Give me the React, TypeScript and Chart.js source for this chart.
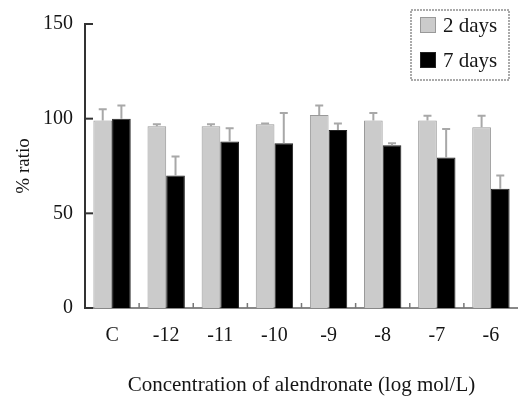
import { useEffect, useRef } from "react";
import { Chart, registerables } from "chart.js";

Chart.register(...registerables);

const categories = ["C", "-12", "-11", "-10", "-9", "-8", "-7", "-6"];
const seriesLabels = ["2 days", "7 days"];
const days2 = [99, 96, 96, 97, 102, 99, 99, 95.5];
const days2Err = [6, 1, 1, 0.5, 5, 4, 2.5, 6];
const days7 = [100, 70, 88, 87, 94, 86, 79.5, 63];
const days7Err = [7, 10, 7, 16, 3.5, 1, 15, 7];
const yTicks = [0, 50, 100, 150];
const xTitle = "Concentration of alendronate (log mol/L)";
const yTitle = "% ratio";

const FONT = "'Liberation Serif', 'Times New Roman', serif";
const TEXT = "#151515";
const errs = [days2Err, days7Err];

const decorPlugin = {
  id: "decor",
  afterDatasetsDraw(chart: any) {
    const ctx = chart.ctx;
    const yScale = chart.scales.y;
    const xScale = chart.scales.x;
    const area = chart.chartArea;
    ctx.save();
    // error bars
    chart.data.datasets.forEach((ds: any, i: number) => {
      const meta = chart.getDatasetMeta(i);
      meta.data.forEach((bar: any, j: number) => {
        const top = yScale.getPixelForValue(ds.data[j] + errs[i][j]);
        ctx.strokeStyle = "#a8a8a8";
        ctx.lineWidth = 2;
        ctx.beginPath();
        ctx.moveTo(bar.x, bar.y);
        ctx.lineTo(bar.x, top);
        ctx.moveTo(bar.x - 4, top);
        ctx.lineTo(bar.x + 4, top);
        ctx.stroke();
      });
    });
    // inward y ticks
    ctx.strokeStyle = "#333";
    ctx.lineWidth = 2;
    yTicks.forEach((t) => {
      const y = yScale.getPixelForValue(t);
      ctx.beginPath();
      ctx.moveTo(area.left, y);
      ctx.lineTo(area.left + 8, y);
      ctx.stroke();
    });
    // small upward ticks at category boundaries
    ctx.strokeStyle = "#777";
    ctx.lineWidth = 1.5;
    for (let j = 0; j < categories.length - 1; j++) {
      const x = (xScale.getPixelForValue(j) + xScale.getPixelForValue(j + 1)) / 2;
      ctx.beginPath();
      ctx.moveTo(x, area.bottom);
      ctx.lineTo(x, area.bottom - 5);
      ctx.stroke();
    }
    ctx.restore();
  },
  afterDraw(chart: any) {
    const ctx = chart.ctx;
    ctx.save();
    const bx = 411, by = 10, bw = 98, bh = 70;
    ctx.strokeStyle = "#aaa";
    ctx.lineWidth = 2;
    ctx.setLineDash([2, 1]);
    ctx.strokeRect(bx, by, bw, bh);
    ctx.setLineDash([]);
    ctx.font = `21px ${FONT}`;
    ctx.textBaseline = "middle";
    ctx.textAlign = "left";
    chart.data.datasets.forEach((ds: any, i: number) => {
      const cy = 25 + i * 35;
      ctx.fillStyle = ds.backgroundColor;
      ctx.fillRect(420, cy - 8, 16, 16);
      ctx.strokeStyle = ds.borderColor;
      ctx.lineWidth = 1;
      ctx.strokeRect(420.5, cy - 7.5, 15, 15);
      ctx.fillStyle = TEXT;
      ctx.fillText(ds.label, 443, cy + 1);
    });
    ctx.restore();
  },
};

export default function App() {
  const ref = useRef<HTMLCanvasElement | null>(null);
  useEffect(() => {
    document.body.style.margin = "0";
    const chart = new Chart(ref.current!, {
      type: "bar",
      data: {
        labels: categories,
        datasets: [
          {
            label: seriesLabels[0],
            data: days2,
            backgroundColor: "#cbcbcb",
            borderColor: "#999",
            borderWidth: 1,
          },
          {
            label: seriesLabels[1],
            data: days7,
            backgroundColor: "#000",
            borderColor: "#222",
            borderWidth: 1,
          },
        ],
      },
      options: {
        responsive: false,
        animation: false,
        layout: { padding: { top: 17, left: 0, right: 0, bottom: 0 } },
        datasets: { bar: { categoryPercentage: 0.69, barPercentage: 1 } },
        plugins: { legend: { display: false }, tooltip: { enabled: false } },
        scales: {
          x: {
            grid: { display: false, drawTicks: false },
            border: { display: true, color: "#888", width: 2 },
            ticks: { font: { family: FONT, size: 20 }, color: TEXT, padding: 16 },
            title: {
              display: true,
              text: xTitle,
              font: { family: FONT, size: 21 },
              color: TEXT,
              padding: { top: 0, bottom: 4 },
            },
            afterFit: (s: any) => {
              s.height = 94;
            },
          },
          y: {
            min: 0,
            max: 150,
            grid: { display: false, drawTicks: false },
            border: { display: true, color: "#333", width: 2 },
            ticks: {
              stepSize: 50,
              font: { family: FONT, size: 20 },
              color: TEXT,
              padding: 12,
            },
            title: {
              display: true,
              text: yTitle,
              font: { family: FONT, size: 19 },
              color: TEXT,
              padding: { top: 13, bottom: 0 },
            },
            afterFit: (s: any) => {
              s.width = 85;
            },
          },
        },
      },
      plugins: [decorPlugin],
    });
    return () => chart.destroy();
  }, []);
  return (
    <div style={{ position: "fixed", left: 0, top: 0, width: 518, height: 402 }}>
      <canvas ref={ref} width={518} height={402} />
    </div>
  );
}
